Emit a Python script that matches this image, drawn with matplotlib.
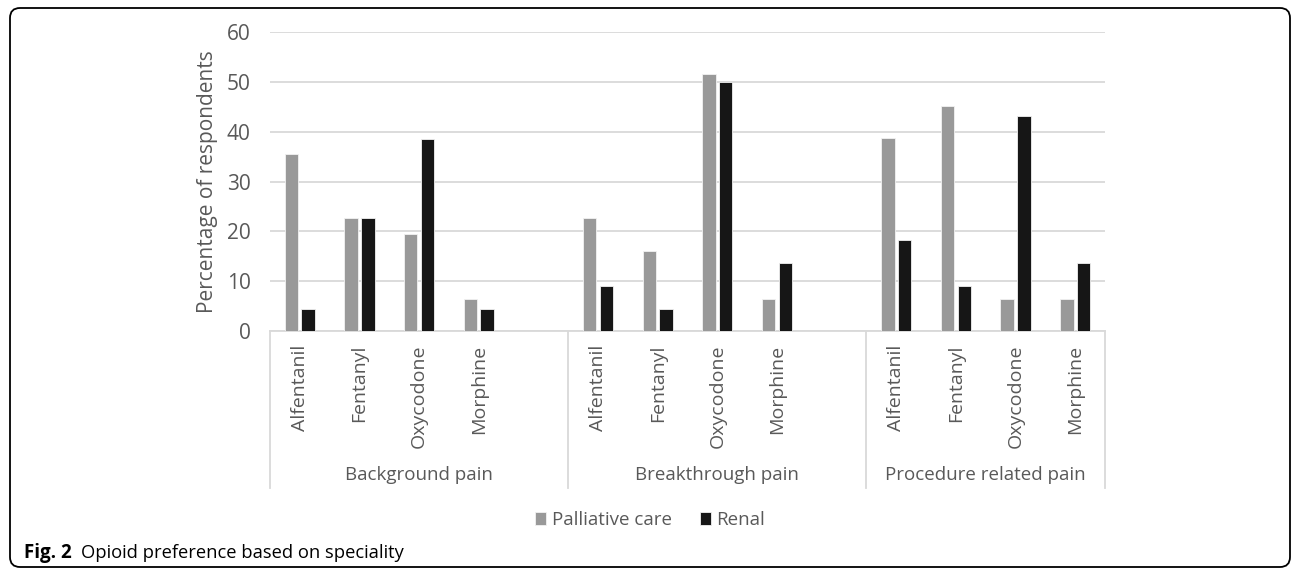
import matplotlib
matplotlib.use('Agg')
import matplotlib.pyplot as plt
from matplotlib.patches import FancyBboxPatch
import matplotlib.transforms as mtransforms
import numpy as np

plt.rcParams['font.family'] = ['Open Sans', 'DejaVu Sans']

groups = ['Background pain', 'Breakthrough pain', 'Procedure related pain']
drugs = ['Alfentanil', 'Fentanyl', 'Oxycodone', 'Morphine']
series = ['Palliative care', 'Renal']
palliative = [35.5, 22.6, 19.4, 6.5,
              22.6, 16.1, 51.6, 6.5,
              38.7, 45.2, 6.5, 6.5]
renal = [4.5, 22.7, 38.6, 4.5,
         9.1, 4.5, 50.0, 13.6,
         18.2, 9.1, 43.2, 13.6]
yticks = [0, 10, 20, 30, 40, 50, 60]

# slots per group in the category axis (first two groups have an empty slot)
slots = [5, 5, 4]

txt = '#595959'
grid = '#d9d9d9'

fig = plt.figure(figsize=(12.92, 5.71), dpi=100)
ax = fig.add_axes([270/1292, 1-331/571, 835/1292, 299/571])

x = []
starts = np.cumsum([0] + slots[:-1])
for g in range(len(groups)):
    for d in range(len(drugs)):
        x.append(starts[g] + d)
x = np.array(x, dtype=float)

w = 0.225
off = 0.14
ax.bar(x - off, palliative, w, color='#999999', edgecolor='#f2f2f2', lw=0.6, label=series[0], zorder=3)
ax.bar(x + off, renal, w, color='#161616', edgecolor='#f2f2f2', lw=0.6, label=series[1], zorder=3)

ax.set_xlim(-0.5, sum(slots) - 0.5)
ax.set_ylim(0, 60)
ax.set_yticks(yticks)
ax.yaxis.grid(True, color=grid, lw=1.3, zorder=0)
ax.set_axisbelow(True)
for s in ['top', 'right', 'left']:
    ax.spines[s].set_visible(False)
ax.spines['bottom'].set_color(grid)
ax.spines['bottom'].set_linewidth(1.3)

ax.set_xticks(x)
ax.set_xticklabels(drugs * len(groups), rotation=90)
ax.tick_params(axis='x', length=0, pad=10, labelsize=14, labelcolor=txt)
ax.tick_params(axis='y', length=0, pad=14, labelsize=15, labelcolor=txt)
ax.set_ylabel('Percentage of respondents', fontsize=15, color=txt, labelpad=6)

# group separators and group labels under the axis
trans = mtransforms.blended_transform_factory(ax.transData, ax.transAxes)
bounds = np.concatenate([[0], np.cumsum(slots)]) - 0.5
for b in bounds:
    ax.plot([b, b], [0, -0.525], transform=trans, color=grid, lw=1.3, clip_on=False)
for g, name in enumerate(groups):
    ax.text((bounds[g] + bounds[g+1]) / 2, -0.48, name, transform=trans,
            ha='center', va='center', fontsize=13.5, color=txt)

fig.legend(loc='center', bbox_to_anchor=(0.5 + 4/1292, 1-520/571), ncol=2, frameon=False,
           fontsize=13.5, labelcolor=txt, handlelength=0.6, handleheight=0.7,
           handletextpad=0.3, columnspacing=1.5)

fig.text(24/1292, 1-553/571, 'Fig. 2', fontsize=13.5, fontweight='bold', va='center', ha='left')
fig.text(81/1292, 1-553/571, 'Opioid preference based on speciality', fontsize=13.2, va='center', ha='left')

frame = FancyBboxPatch((0.10, 0.04), 12.80, 5.59,
                       boxstyle='round,pad=0,rounding_size=0.1', transform=fig.dpi_scale_trans,
                       fill=False, ec='black', lw=1.3, clip_on=False)
fig.patches.append(frame)

fig.savefig('out.png', dpi=100)
